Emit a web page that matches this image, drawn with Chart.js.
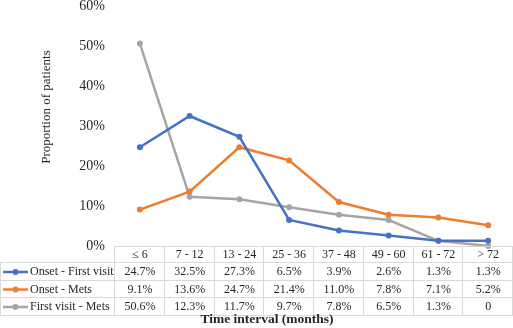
<!DOCTYPE html>
<html>
<head>
<meta charset="utf-8">
<script src="https://cdn.jsdelivr.net/npm/chart.js@4/dist/chart.umd.min.js"></script>
<style>
    html, body { margin: 0; padding: 0; background: #fff; }
    #wrap { width: 513px; height: 328px; }
</style>
</head>
<body>
<div id="wrap"><canvas id="intervalChart" width="513" height="328"></canvas></div>
<script>
var categories = ['\u2264 6', '7 - 12', '13 - 24', '25 - 36', '37 - 48', '49 - 60', '61 - 72', '> 72'];
var onsetFirstVisit = [24.7, 32.5, 27.3, 6.5, 3.9, 2.6, 1.3, 1.3];
var onsetMets = [9.1, 13.6, 24.7, 21.4, 11.0, 7.8, 7.1, 5.2];
var firstVisitMets = [50.6, 12.3, 11.7, 9.7, 7.8, 6.5, 1.3, 0];
var yTicks = [0, 10, 20, 30, 40, 50, 60];

(function () {
    var el = document.getElementById('intervalChart');
    if (!window.Chart) return;

    var serif = '"Liberation Serif", "Times New Roman", serif';
    var textColor = '#262626';
    var borderColor = '#d9d9d9';

    function fmt(v) {
        return v === 0 ? '0' : v.toFixed(1) + '%';
    }

    // data table under the plot, aligned to the category scale
    var tablePlugin = {
        id: 'dataTable',
        afterDraw: function (chart) {
            var ctx = chart.ctx;
            var x = chart.scales.x;
            var area = chart.chartArea;
            var colW = (area.right - area.left) / categories.length;
            var rowTops = [area.bottom, area.bottom + 16, area.bottom + 34, area.bottom + 51];
            var tableBottom = area.bottom + 69;
            var rows = [
                { label: 'Onset - First visit', data: onsetFirstVisit, color: '#4472c4' },
                { label: 'Onset - Mets', data: onsetMets, color: '#ed7d31' },
                { label: 'First visit - Mets', data: firstVisitMets, color: '#a5a5a5' }
            ];

            ctx.save();
            ctx.strokeStyle = borderColor;
            ctx.lineWidth = 1;
            ctx.beginPath();
            // header row top
            ctx.moveTo(area.left, rowTops[0] + 0.5);
            ctx.lineTo(area.right, rowTops[0] + 0.5);
            // data row lines
            for (var r = 1; r < rowTops.length; r++) {
                ctx.moveTo(0, rowTops[r] + 0.5);
                ctx.lineTo(area.right, rowTops[r] + 0.5);
            }
            ctx.moveTo(0, tableBottom + 0.5);
            ctx.lineTo(area.right, tableBottom + 0.5);
            // verticals
            ctx.moveTo(0.5, rowTops[1]);
            ctx.lineTo(0.5, tableBottom);
            for (var c = 0; c <= categories.length; c++) {
                var vx = Math.round(area.left + c * colW) - 0.5;
                ctx.moveTo(vx, rowTops[0]);
                ctx.lineTo(vx, tableBottom);
            }
            ctx.stroke();

            ctx.fillStyle = textColor;
            ctx.font = '12px ' + serif;
            ctx.textAlign = 'center';
            ctx.textBaseline = 'middle';
            categories.forEach(function (cat, i) {
                ctx.fillText(cat, x.getPixelForValue(i), (rowTops[0] + rowTops[1]) / 2 + 1);
            });

            rows.forEach(function (row, ri) {
                var cy = (rowTops[ri + 1] + (ri + 2 < rowTops.length ? rowTops[ri + 2] : tableBottom)) / 2 + 1;
                ctx.strokeStyle = row.color;
                ctx.lineWidth = 2.5;
                ctx.beginPath();
                ctx.moveTo(3, cy);
                ctx.lineTo(28, cy);
                ctx.stroke();
                ctx.fillStyle = row.color;
                ctx.beginPath();
                ctx.arc(15.5, cy, 3, 0, Math.PI * 2);
                ctx.fill();

                ctx.fillStyle = textColor;
                ctx.textAlign = 'left';
                ctx.fillText(row.label, 30, cy);
                ctx.textAlign = 'center';
                row.data.forEach(function (v, i) {
                    ctx.fillText(fmt(v), x.getPixelForValue(i), cy);
                });
            });

            // axis titles
            ctx.font = 'bold 13.5px ' + serif;
            ctx.fillText('Time interval (months)', 267, tableBottom + 5);
            ctx.font = '13px ' + serif;
            ctx.translate(47, 107);
            ctx.rotate(-Math.PI / 2);
            ctx.fillText('Proportion of patients', 0, 0);
            ctx.restore();
        }
    };

    function series(label, data, color) {
        return {
            label: label,
            data: data,
            borderColor: color,
            backgroundColor: color,
            borderWidth: 2.5,
            pointRadius: 3,
            pointHoverRadius: 3,
            pointBackgroundColor: color,
            pointBorderWidth: 0,
            tension: 0,
            clip: false
        };
    }

    new Chart(el.getContext('2d'), {
        type: 'line',
        data: {
            labels: categories,
            datasets: [
                series('Onset - First visit', onsetFirstVisit, '#4472c4'),
                series('Onset - Mets', onsetMets, '#ed7d31'),
                series('First visit - Mets', firstVisitMets, '#a5a5a5')
            ]
        },
        options: {
            responsive: false,
            animation: false,
            layout: { autoPadding: false, padding: { top: 6, bottom: 82, left: 0, right: 0 } },
            plugins: {
                legend: { display: false },
                tooltip: { enabled: false }
            },
            scales: {
                x: {
                    display: false,
                    offset: true
                },
                y: {
                    min: 0,
                    max: 60,
                    afterFit: function (scale) {
                        scale.width = 115;
                        scale.paddingTop = 0;
                        scale.paddingBottom = 0;
                    },
                    afterBuildTicks: function (scale) {
                        scale.ticks = yTicks.map(function (v) { return { value: v }; });
                    },
                    border: { display: false },
                    grid: { display: false, drawTicks: false },
                    ticks: {
                        padding: 10,
                        color: textColor,
                        font: { family: serif, size: 14 },
                        callback: function (v) { return v + '%'; }
                    }
                }
            }
        },
        plugins: [tablePlugin]
    });
})();
</script>
</body>
</html>
